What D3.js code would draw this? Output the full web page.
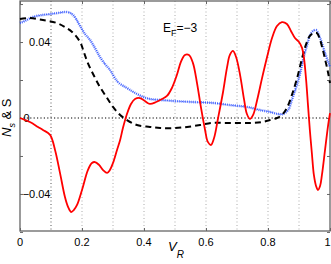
<!DOCTYPE html>
<html>
<head>
<meta charset="utf-8">
<script src="https://cdn.jsdelivr.net/npm/d3@7"></script>
<style>
  html, body { margin: 0; padding: 0; background: #fff; }
  svg { display: block; }
  text { font-family: "Liberation Sans", Arial, sans-serif; }
</style>
</head>
<body>
<svg id="chart" width="331" height="264"></svg>
<script>
// ---- data ----
const xTicks = [0, 0.2, 0.4, 0.6, 0.8, 1];
const xTickLabels = ["0", "0.2", "0.4", "0.6", "0.8", "1"];
const xGrid = [0.1, 0.2, 0.3, 0.4, 0.5, 0.6, 0.7, 0.8, 0.9];
const yTicks = [-0.06, -0.04, -0.02, 0, 0.02, 0.04, 0.06];
const yLabelTicks = [0.04, 0, -0.04];
const yLabelText = ["0.04", "0", "\u22120.04"];

const redV = [0,0.032,0.058,0.074,0.097,0.113,0.129,0.145,0.155,0.165,0.174,0.184,0.2,0.219,0.232,0.242,0.255,0.268,0.281,0.29,0.3,0.313,0.323,0.332,0.345,0.358,0.371,0.387,0.403,0.419,0.439,0.458,0.474,0.49,0.506,0.519,0.532,0.545,0.558,0.571,0.584,0.597,0.606,0.616,0.626,0.639,0.655,0.668,0.677,0.687,0.697,0.71,0.723,0.732,0.742,0.752,0.765,0.781,0.797,0.813,0.829,0.845,0.861,0.874,0.887,0.9,0.91,0.916,0.923,0.929,0.935,0.942,0.948,0.955,0.961,0.968,0.974,0.984,0.994,1.0];
const redS = [0,-0.0021,-0.0047,-0.0063,-0.0089,-0.0168,-0.0289,-0.0416,-0.0468,-0.0495,-0.0484,-0.0458,-0.0379,-0.0274,-0.0237,-0.0232,-0.0247,-0.0274,-0.0289,-0.0274,-0.0237,-0.0168,-0.0116,-0.0053,0.0021,0.0074,0.01,0.0105,0.0089,0.0074,0.0084,0.01,0.0116,0.0158,0.0226,0.0295,0.0332,0.0332,0.0289,0.0184,0.0053,-0.0063,-0.0126,-0.0142,-0.0105,0,0.0137,0.0268,0.0332,0.0353,0.0321,0.0226,0.0095,0.0021,-0.0005,0.0016,0.0095,0.0211,0.0321,0.0421,0.0484,0.0505,0.0495,0.0458,0.0421,0.04,0.0368,0.0316,0.02,0.0068,-0.0063,-0.0195,-0.03,-0.0358,-0.0379,-0.0358,-0.03,-0.0168,-0.0037,0.0026];

const blackV = [0,0.032,0.074,0.119,0.145,0.168,0.194,0.206,0.219,0.239,0.258,0.281,0.3,0.323,0.345,0.377,0.419,0.452,0.5,0.539,0.581,0.619,0.661,0.71,0.748,0.781,0.806,0.829,0.845,0.861,0.877,0.894,0.91,0.923,0.935,0.948,0.958,0.968,0.977,0.987,0.994,1.0];
const blackN = [0.0521,0.0526,0.0516,0.05,0.0479,0.0453,0.04,0.0347,0.0289,0.0221,0.0163,0.0105,0.0058,0.0016,-0.0011,-0.0037,-0.0047,-0.0053,-0.0053,-0.0047,-0.0037,-0.0026,-0.0026,-0.0026,-0.0026,-0.0021,-0.0011,0,0.0016,0.0053,0.0121,0.0211,0.0316,0.0389,0.0432,0.0447,0.0447,0.0411,0.0358,0.0289,0.0237,0.0184];

const blueV = [0,0.016,0.042,0.071,0.097,0.123,0.152,0.168,0.181,0.194,0.21,0.226,0.242,0.258,0.274,0.29,0.316,0.345,0.371,0.397,0.419,0.452,0.5,0.558,0.623,0.677,0.732,0.774,0.806,0.832,0.848,0.865,0.877,0.89,0.903,0.913,0.926,0.935,0.945,0.955,0.968,0.984,1.0];
const blueN = [0.05,0.0511,0.0532,0.0542,0.0547,0.0553,0.0558,0.0547,0.0521,0.0484,0.0442,0.0411,0.0368,0.0321,0.0284,0.0253,0.0189,0.0158,0.0132,0.0111,0.01,0.0095,0.0089,0.0084,0.0079,0.0068,0.0058,0.0042,0.0032,0.0021,0.0021,0.0042,0.0095,0.0158,0.0232,0.0305,0.0384,0.0432,0.0458,0.0463,0.0421,0.0342,0.0268];

// ---- layout ----
const L = 20, R = 330, T = 1, B = 231;
const svg = d3.select("#chart");
const x = d3.scaleLinear().domain([0, 1]).range([L, R]);
const y = d3.scaleLinear().domain([-0.0595, 0.0616]).range([B, T]);

// grid
svg.append("g").selectAll("line").data(xGrid).join("line")
  .attr("x1", d => x(d)).attr("x2", d => x(d))
  .attr("y1", T).attr("y2", B)
  .attr("stroke", d => d === 0.1 ? "#555" : "#aaa")
  .attr("stroke-width", 1)
  .attr("stroke-dasharray", "1,2.5");
svg.append("line")
  .attr("x1", L).attr("x2", R).attr("y1", y(0)).attr("y2", y(0))
  .attr("stroke", "#000").attr("stroke-width", 1.2)
  .attr("stroke-dasharray", "1.2,2.2");

// axes (inward ticks)
const axisColor = "#666";
function styleAxis(g) {
  g.select(".domain").remove();
  g.selectAll(".tick line").attr("stroke", axisColor);
  g.selectAll(".tick text").remove();
}
svg.append("g").attr("transform", `translate(0,${B})`)
  .call(d3.axisTop(x).tickValues(xTicks).tickSize(3)).call(styleAxis);
svg.append("g").attr("transform", `translate(0,${T})`)
  .call(d3.axisBottom(x).tickValues(xTicks).tickSize(3)).call(styleAxis);
svg.append("g").attr("transform", `translate(${L},0)`)
  .call(d3.axisRight(y).tickValues(yTicks).tickSize(3)).call(styleAxis);
svg.append("g").attr("transform", `translate(${R},0)`)
  .call(d3.axisLeft(y).tickValues(yTicks).tickSize(3)).call(styleAxis);

// frame
svg.append("rect").attr("x", L).attr("y", T).attr("width", R - L).attr("height", B - T)
  .attr("fill", "none").attr("stroke", axisColor).attr("stroke-width", 1.3);

// tick labels
svg.append("g").selectAll("text").data(xTicks).join("text")
  .attr("x", d => d === 1 ? x(d) + 0.5 : x(d)).attr("y", B + 15)
  .attr("text-anchor", d => d === 1 ? "end" : "middle")
  .attr("font-size", 11).attr("fill", "#000")
  .text((d, i) => xTickLabels[i]);
svg.append("g").selectAll("text").data(yLabelTicks).join("text")
  .attr("x", d => d === 0 ? 29.5 : 50.5).attr("y", d => y(d) + 4)
  .attr("text-anchor", "end").attr("font-size", 11).attr("fill", "#000")
  .text((d, i) => yLabelText[i]);

// lines
const mk = (xs, ys) => xs.map((v, i) => [v, ys[i]]);
const line = d3.line().x(d => x(d[0])).y(d => y(d[1])).curve(d3.curveCatmullRom.alpha(0.5));

const bluePts = mk(blueV, blueN);
svg.append("path").datum(bluePts).attr("d", line)
  .attr("fill", "none").attr("stroke", "#3a5cff").attr("stroke-width", 2.6)
  .attr("stroke-dasharray", "0.8,1.2").attr("opacity", 0.9);
svg.append("path").datum(bluePts).attr("d", line)
  .attr("fill", "none").attr("stroke", "#2a4cff").attr("stroke-width", 0.8)
  .attr("stroke-dasharray", "1.5,1");
svg.append("path").datum(mk(blackV, blackN)).attr("d", line)
  .attr("fill", "none").attr("stroke", "#000").attr("stroke-width", 2)
  .attr("stroke-dasharray", "6,4");
svg.append("path").datum(mk(redV, redS)).attr("d", line)
  .attr("fill", "none").attr("stroke", "#ff0000").attr("stroke-width", 1.8);

// annotation
const ann = svg.append("text").attr("x", 163).attr("y", 32).attr("font-size", 12).attr("fill", "#000");
ann.append("tspan").text("E");
ann.append("tspan").attr("font-size", 9).attr("dy", 4).text("F");
ann.append("tspan").attr("dy", -4).text("=\u22123");

// axis labels
const xl = svg.append("text").attr("x", 168).attr("y", 251).attr("font-size", 13)
  .attr("font-style", "italic").attr("fill", "#000");
xl.append("tspan").text("V");
xl.append("tspan").attr("font-size", 10).attr("dy", 7).text("R");

const yl = svg.append("text").attr("transform", "translate(11,137) rotate(-90)")
  .attr("font-size", 13).attr("font-style", "italic").attr("fill", "#000");
yl.append("tspan").text("N");
yl.append("tspan").attr("font-size", 9).attr("dy", 4).text("s");
yl.append("tspan").attr("dy", -4).attr("font-style", "normal").text(" & S");
</script>
</body>
</html>
